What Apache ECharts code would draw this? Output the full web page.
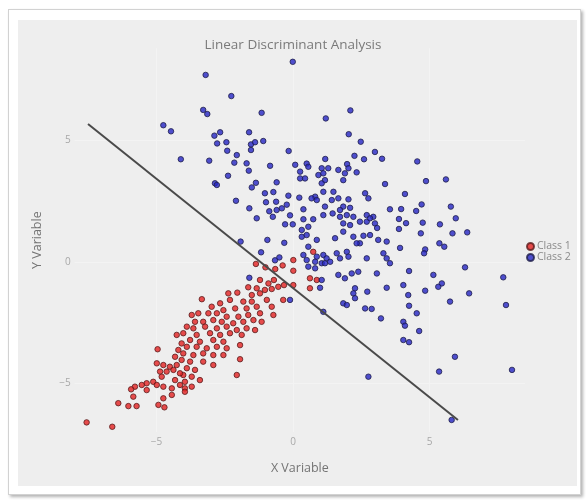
<!DOCTYPE html>
<html>
<head>
<meta charset="utf-8">
<script src="https://cdn.jsdelivr.net/npm/echarts@6/dist/echarts.min.js"></script>
<style>
  html, body { margin: 0; padding: 0; width: 586px; height: 503px; background: #fff; overflow: hidden; }
  .card { position: absolute; left: 8px; top: 9px; width: 571px; height: 484px; border: 1px solid #d2d2d2; background: #fff; box-shadow: 2px 2px 3px rgba(0, 0, 0, 0.3); }
  .panel { position: absolute; left: 18px; top: 20px; width: 559px; height: 466px; background: #eeeeee; }
  #chart { position: absolute; left: 0; top: 0; width: 586px; height: 503px; }
</style>
</head>
<body>
<div class="card"></div>
<div class="panel"></div>
<div id="chart"></div>
<script>
// Class 1 (red)
const class1X = [
  0.01, -1.36, -1.01, -0.65, -0.38, 0.01, -1.21, -0.90, -0.70, -1.64, -1.33, -1.03, -0.78, -0.54, -0.33, 0.01,
  -2.04, -2.37, 0.74, 0.62, 0.62, 0.87, -1.51, -1.21, -0.36, -3.34, -2.67, -2.31, -1.82, -1.51, -0.96, -2.98,
  -2.55, -2.12, -1.70, -1.33, -0.78, -0.72, -3.10, -2.79, -3.71, -3.47, -2.43, -2.00, -1.64, -1.21, -3.59, -3.29,
  -2.92, -2.61, -2.19, -1.82, -1.45, -1.15, -3.89, -3.65, -3.22, -2.79, -2.43, -2.06, -1.70, -1.39, -4.02, -3.53,
  -3.04, -2.67, -2.31, -1.88, -3.77, -3.41, -2.92, -2.55, -3.89, -3.53, -3.16, -2.79, -2.43, -1.94, -4.02, -3.65,
  -3.29, -2.92, -2.55, -4.08, -3.77, -3.29, -2.92, -1.94, -3.89, -3.59, -4.02, -3.71, -3.41, -3.96, -3.96, -3.71,
  -2.06, -3.96, -4.26, -4.08, -4.20, -4.96, -4.32, -4.99, -4.75, -4.51, -4.26, -4.87, -4.63, -4.38, -4.14, -4.81,
  -4.32, -5.12, -4.99, -5.36, -5.54, -5.79, -4.75, -4.44, -4.14, -5.93, -5.36, -5.85, -4.75, -4.44, -6.40, -6.03,
  -5.73, -4.93, -4.71, -7.56, -6.62
];
const class1Y = [
  0.08, -0.08, -0.22, -0.29, -0.14, -0.36, -0.74, -0.88, -0.74, -1.04, -1.08, -1.15, -1.11, -1.02, -0.95, -0.95,
  -1.26, -1.29, 0.42, -0.67, -1.08, -0.74, -1.36, -1.29, -1.56, -1.53, -1.70, -1.56, -1.63, -1.63, -1.56, -1.84,
  -1.98, -1.91, -1.91, -1.84, -1.84, -2.18, -2.11, -2.11, -2.18, -2.11, -2.25, -2.25, -2.18, -2.11, -2.46, -2.46,
  -2.39, -2.46, -2.52, -2.46, -2.39, -2.46, -2.66, -2.73, -2.66, -2.73, -2.66, -2.80, -2.73, -2.80, -2.93, -3.00,
  -2.93, -3.00, -2.93, -3.00, -3.21, -3.28, -3.21, -3.28, -3.49, -3.49, -3.55, -3.49, -3.55, -3.42, -3.76, -3.83,
  -3.76, -3.83, -3.83, -4.03, -4.10, -4.10, -4.24, -4.00, -4.37, -4.44, -4.65, -4.72, -4.86, -4.93, -5.20, -5.13,
  -4.65, -5.34, -3.00, -3.35, -3.62, -3.59, -3.90, -4.17, -4.24, -4.31, -4.24, -4.51, -4.51, -4.44, -4.58, -4.72,
  -4.86, -4.93, -5.06, -4.99, -5.06, -5.13, -5.13, -5.20, -5.06, -5.24, -5.27, -5.54, -5.61, -5.47, -5.81, -5.93,
  -5.93, -5.88, -5.98, -6.60, -6.78
];

// Class 2 (blue)
const class2X = [
  -0.01, -3.20, -2.26, -3.29, -3.14, -1.15, -4.75, -4.47, -2.67, -2.88, -1.61, -2.78, -2.44, -1.54, -1.39, -1.09,
  -2.41, -1.54, -0.16, -2.06, -4.11, -3.07, -2.15, -1.70, -0.84, 0.08, 2.10, 1.20, 2.04, 2.48, 3.00, 2.25,
  3.26, 2.60, 1.18, 4.55, 0.50, 1.98, 0.26, 0.26, 0.44, 0.56, 1.05, 1.29, 0.93, 1.11, 1.17, 1.05,
  1.66, 1.90, 2.03, 2.33, 1.84, 3.37, 1.11, 1.48, 2.64, 2.76, 4.10, 0.23, 0.81, 0.68, 0.87, 1.42,
  1.66, 2.03, 1.17, 1.84, 2.09, 1.72, 0.38, 3.55, 3.96, 1.45, 1.11, 1.72, 1.97, 2.21, 2.70, 2.94,
  0.38, 0.74, 1.84, 2.09, 2.45, 2.70, 2.82, 3.00, 3.88, 4.14, 3.88, 0.32, 0.56, 3.08, 1.84, 0.32,
  0.50, 0.87, 1.54, 2.21, 2.58, 2.82, 2.45, 2.33, 3.12, 3.43, 0.56, 0.38, 0.50, 0.87, 1.11, 1.23,
  1.36, 1.60, 1.72, 1.97, 2.03, 1.05, 1.17, 0.81, 3.31, 3.43, 3.55, 2.70, 0.56, 0.81, 1.66, 2.15,
  2.39, 3.07, 1.05, 1.90, -2.38, -1.62, -2.86, -2.79, -1.36, -1.51, -0.60, -1.03, -0.72, -0.17, -2.09, -0.99,
  -0.62, -0.23, -1.60, -0.87, -0.60, -0.41, -0.11, -0.74, -1.33, -0.29, -0.01, -1.92, -0.94, -0.32, -1.17, -0.66,
  -0.50, -1.60, 4.87, 5.60, 4.71, 4.51, 5.78, 5.96, 4.75, 5.38, 4.68, 5.84, 6.38, 5.36, 5.54, 4.84,
  4.80, 6.30, 5.14, 7.70, 5.45, 3.92, 4.25, -0.11, 0.99, 2.27, 2.21, 2.27, 2.72, 3.43, 4.04, 4.22,
  4.84, 5.32, 6.45, 5.75, 7.80, 1.84, 1.97, 2.64, 2.88, 1.11, 4.25, 4.53, 3.22, 4.04, 4.10, 4.62,
  4.04, 4.25, 5.93, 5.35, 8.02, 2.76, 5.81
];
const class2Y = [
  8.24, 7.70, 6.83, 6.26, 6.09, 6.14, 5.63, 5.38, 5.34, 5.20, 5.34, 4.88, 4.93, 4.84, 4.93, 4.98,
  4.58, 4.61, 4.57, 4.40, 4.23, 4.17, 4.09, 4.06, 3.96, 4.00, 6.24, 5.91, 5.26, 4.95, 4.53, 4.37,
  4.25, 4.23, 4.24, 4.14, 4.05, 4.03, 3.72, 3.44, 3.44, 3.92, 3.86, 3.86, 3.58, 3.65, 3.37, 3.24,
  3.79, 3.65, 3.86, 3.69, 3.37, 3.21, 2.89, 2.89, 2.83, 2.62, 2.80, 2.65, 2.69, 2.62, 2.55, 2.55,
  2.62, 2.58, 2.28, 2.28, 2.23, 2.14, 2.17, 2.17, 2.18, 2.00, 1.93, 1.86, 1.93, 1.86, 1.93, 1.86,
  1.76, 1.76, 1.59, 1.52, 1.66, 1.66, 1.80, 1.59, 1.77, 1.60, 1.36, 1.32, 1.45, 1.40, 1.25, 1.04,
  1.11, 0.91, 0.98, 1.04, 1.08, 1.11, 0.77, 0.77, 0.91, 0.84, 0.63, 0.29, 0.08, 0.22, 0.29, 0.15,
  0.01, 0.36, 0.15, 0.42, 0.22, -0.05, -0.05, 0.01, 0.36, 0.15, -0.05, 0.15, -0.19, -0.26, -0.53, -0.47,
  -0.40, -0.47, -0.74, -0.67, 3.55, 3.76, 3.24, 3.17, 3.26, 3.07, 3.28, 2.83, 2.88, 2.73, 2.52, 2.46,
  2.48, 2.36, 2.21, 2.09, 2.14, 2.21, 1.92, 1.86, 1.80, 1.55, 1.55, 0.84, 0.91, 0.79, 0.40, 0.07,
  0.19, -0.65, 3.33, 3.40, 2.37, 2.10, 2.28, 1.80, 1.62, 1.55, 1.18, 1.18, 1.22, 0.77, 0.63, 0.52,
  0.36, -0.22, -0.53, -0.63, -0.88, 0.58, -0.37, -1.56, -1.06, -1.08, -1.29, -1.49, -1.22, -1.06, -0.95, -1.36,
  -1.18, -1.02, -1.29, -1.63, -1.77, -1.70, -1.77, -1.91, -1.93, -2.05, -1.80, -2.11, -2.32, -2.46, -2.62, -2.84,
  -3.21, -3.30, -3.90, -4.51, -4.44, -4.72, -6.50
];

// discriminant line end points
const boundaryX = [-7.51, 6.04];
const boundaryY = [5.68, -6.50];

// tick labels and faint grid positions
const xTicks = [-5, 0, 5];
const yTicks = [-5, 0, 5];

const zip = (xs, ys) => xs.map((x, i) => [x, ys[i]]);
const minus = (v) => String(v).replace('-', '\u2212');

const chart = echarts.init(document.getElementById('chart'));

const option = {
  backgroundColor: 'transparent',
  animation: false,
  textStyle: { fontFamily: 'Open Sans' },
  title: {
    text: 'Linear Discriminant Analysis',
    left: 'center',
    top: 33,
    textStyle: { fontSize: 13.5, fontWeight: 'normal', color: '#7a7a7a', fontFamily: 'Open Sans' }
  },
  legend: {
    orient: 'vertical',
    left: 521,
    top: 236,
    itemWidth: 7,
    itemHeight: 7,
    itemGap: 0,
    textStyle: { fontSize: 10.5, color: '#8a8a8a', fontFamily: 'Open Sans', padding: [0, 0, 0, -2] },
    data: [
      { name: 'Class 1', icon: 'circle' },
      { name: 'Class 2', icon: 'circle' }
    ]
  },
  grid: { left: 74.6, right: 60.9, top: 48.2, bottom: 70.9, containLabel: false },
  xAxis: {
    type: 'value',
    min: -8,
    max: 8.5,
    name: 'X Variable',
    nameLocation: 'middle',
    nameGap: 30,
    nameTextStyle: { fontSize: 12.5, color: '#747474', fontFamily: 'Open Sans' },
    axisLine: { show: false },
    axisTick: { show: false },
    splitLine: { show: false },
    axisLabel: { customValues: xTicks, formatter: minus, fontSize: 10, color: '#a8a8a8', margin: 5 }
  },
  yAxis: {
    type: 'value',
    min: -7,
    max: 8.8,
    name: 'Y Variable',
    nameLocation: 'middle',
    nameGap: 31,
    nameRotate: 90,
    nameTextStyle: { fontSize: 12.5, color: '#747474', fontFamily: 'Open Sans' },
    axisLine: { show: false },
    axisTick: { show: false },
    splitLine: { show: false },
    axisLabel: { customValues: yTicks, formatter: minus, fontSize: 10, color: '#a8a8a8', margin: 4 }
  },
  series: [
    {
      // faint white grid lines, kept under the markers
      type: 'line',
      data: [],
      silent: true,
      z: 1,
      markLine: {
        silent: true,
        z: 1,
        symbol: 'none',
        label: { show: false },
        lineStyle: { color: '#f3f3f3', width: 1, type: 'solid' },
        data: xTicks.map((v) => ({ xAxis: v })).concat(yTicks.map((v) => ({ yAxis: v })))
      }
    },
    {
      name: 'Class 1',
      type: 'scatter',
      symbolSize: 5.5,
      data: zip(class1X, class1Y),
      itemStyle: { color: '#e42222', borderColor: '#5a1c1c', borderWidth: 1 },
      z: 3
    },
    {
      name: 'Class 2',
      type: 'scatter',
      symbolSize: 5.5,
      data: zip(class2X, class2Y),
      itemStyle: { color: '#2626c4', borderColor: '#1e1e48', borderWidth: 1 },
      z: 3
    },
    {
      name: 'boundary',
      type: 'line',
      data: zip(boundaryX, boundaryY),
      symbol: 'none',
      lineStyle: { color: '#4a4a4a', width: 2 },
      z: 4
    }
  ]
};

chart.setOption(option);
</script>
</body>
</html>
